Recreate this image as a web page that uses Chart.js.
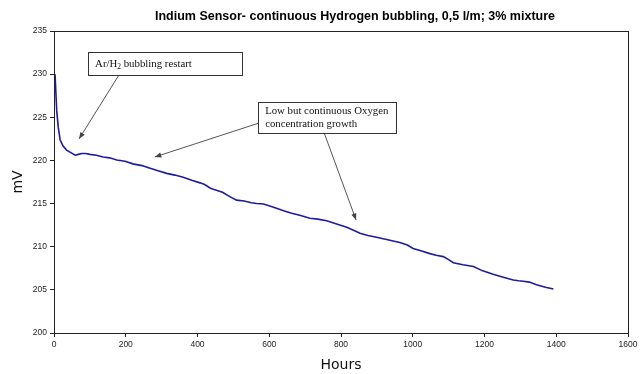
<!DOCTYPE html>
<html><head><meta charset="utf-8">
<script src="https://cdn.jsdelivr.net/npm/chart.js@4"></script>
<style>html,body{margin:0;padding:0;background:#fff}#wrap{width:641px;height:374px}</style>
</head><body><div id="wrap"><canvas id="c" width="641" height="374"></canvas></div>
<script>
const chartTitle = 'Indium Sensor- continuous Hydrogen bubbling, 0,5 l/m; 3% mixture';
const xTitle = 'Hours';
const yTitle = 'mV';
const hours = [0,3,7.5,12,17,25,35,47,59,68,77,88,100,118,137,155,175,198,220,245,268,290,314,337,360,384,407,420,435,444,470,490,509,530,550,565,584,610,638,660,690,713,735,760,790,816,835,853,875,899,930,964,985,1001,1025,1048,1065,1085,1100,1113,1140,1169,1195,1224,1250,1280,1295,1308,1325,1345,1370,1392];
const mV = [230.0,229.9,225.8,223.8,222.4,221.7,221.2,220.9,220.6,220.7,220.8,220.8,220.7,220.6,220.4,220.3,220.05,219.9,219.6,219.4,219.1,218.8,218.5,218.3,218.05,217.7,217.4,217.2,216.8,216.65,216.3,215.8,215.4,215.3,215.1,215.0,214.95,214.6,214.2,213.9,213.6,213.3,213.2,213.0,212.6,212.25,211.9,211.55,211.3,211.1,210.8,210.5,210.2,209.8,209.5,209.2,209.0,208.85,208.5,208.15,207.9,207.7,207.2,206.8,206.5,206.15,206.05,206.0,205.9,205.6,205.3,205.1];
const xTicks = [0,200,400,600,800,1000,1200,1400,1600];
const yTicks = [200,205,210,215,220,225,230,235];

// annotations in data coordinates
const notes = [
  {box:[95,524,232.6,229.9], lines:[['Ar/H','2',' bubbling restart']], arrows:[[181,229.9,70,222.5]]},
  {box:[569,953,226.8,223.2], lines:[['Low but continuous Oxygen'],['concentration growth']], arrows:[[569,224.3,281,220.4],[753,223.2,842,213.1]]}
];

const points = hours.map((h,i)=>({x:h,y:mV[i]}));

function arrow(ctx,x1,y1,x2,y2){
  ctx.beginPath();ctx.moveTo(x1,y1);ctx.lineTo(x2,y2);ctx.stroke();
  const a=Math.atan2(y2-y1,x2-x1), L=7, w=0.38;
  ctx.beginPath();ctx.moveTo(x2,y2);
  ctx.lineTo(x2-L*Math.cos(a-w),y2-L*Math.sin(a-w));
  ctx.lineTo(x2-L*Math.cos(a+w),y2-L*Math.sin(a+w));
  ctx.closePath();ctx.fill();
}

const deco = {
  id:'deco',
  afterDraw(chart){
    const ctx=chart.ctx, a=chart.chartArea, xs=chart.scales.x, ys=chart.scales.y;
    ctx.save();
    ctx.strokeStyle='#222';ctx.lineWidth=1;
    ctx.strokeRect(Math.round(a.left)+0.5,Math.round(a.top)+0.5,Math.round(a.right-a.left),Math.round(a.bottom-a.top));
    ctx.fillStyle='#000';ctx.font='bold 12.5px "Liberation Sans", Arial';ctx.textAlign='center';ctx.textBaseline='middle';
    ctx.fillText(chartTitle,355,17);
    notes.forEach(n=>{
      const x1=xs.getPixelForValue(n.box[0]),x2=xs.getPixelForValue(n.box[1]);
      const y1=ys.getPixelForValue(n.box[2]),y2=ys.getPixelForValue(n.box[3]);
      ctx.strokeStyle='#555';ctx.fillStyle='#444';ctx.lineWidth=1;
      n.arrows.forEach(r=>arrow(ctx,xs.getPixelForValue(r[0]),ys.getPixelForValue(r[1]),xs.getPixelForValue(r[2]),ys.getPixelForValue(r[3])));
      ctx.fillStyle='#fff';ctx.fillRect(x1,y1,x2-x1,y2-y1);
      ctx.strokeStyle='#333';ctx.strokeRect(Math.round(x1)+0.5,Math.round(y1)+0.5,Math.round(x2-x1),Math.round(y2-y1));
      ctx.fillStyle='#111';ctx.textAlign='left';ctx.textBaseline='alphabetic';
      const lh=13.5, total=n.lines.length*lh;
      let by=(y1+y2)/2-total/2+10;
      n.lines.forEach(parts=>{
        let x=x1+7;
        parts.forEach((p,i)=>{
          if(i===1){ctx.font='7.5px "Liberation Serif", "Times New Roman", serif';ctx.fillText(p,x,by+2);x+=ctx.measureText(p).width;}
          else{ctx.font='10.8px "Liberation Serif", "Times New Roman", serif';ctx.fillText(p,x,by);x+=ctx.measureText(p).width;}
        });
        by+=lh;
      });
    });
    ctx.restore();
  }
};

new Chart(document.getElementById('c'),{
  type:'line',
  data:{datasets:[{data:points,borderColor:'#1c1ca0',borderWidth:1.6,pointRadius:0,tension:0,fill:false}]},
  options:{
    responsive:false,animation:false,
    layout:{padding:{top:31,right:13,left:0,bottom:0}},
    plugins:{legend:{display:false},title:{display:false},tooltip:{enabled:false}},
    scales:{
      x:{type:'linear',min:0,max:1600,
        afterBuildTicks(s){s.ticks=xTicks.map(v=>({value:v}));},
        afterFit(s){s.height=41;},
        ticks:{font:{family:'"Liberation Sans", Arial',size:8.5},color:'#222',padding:3,maxRotation:0,callback:v=>String(v)},
        grid:{drawOnChartArea:false,drawTicks:true,tickLength:4,color:'#222'},
        border:{color:'#222'},
        title:{display:true,text:xTitle,font:{family:'"DejaVu Sans"',size:14},color:'#111',padding:{top:2,bottom:0}}
      },
      y:{type:'linear',min:200,max:235,
        afterBuildTicks(s){s.ticks=yTicks.map(v=>({value:v}));},
        afterFit(s){s.width=54;},
        ticks:{font:{family:'"Liberation Sans", Arial',size:8.5},color:'#222',padding:3,callback:v=>String(v)},
        grid:{drawOnChartArea:false,drawTicks:true,tickLength:4,color:'#222'},
        border:{color:'#222'},
        title:{display:true,text:yTitle,font:{family:'"DejaVu Sans"',size:14},color:'#111',padding:{top:10,bottom:0}}
      }
    }
  },
  plugins:[deco]
});
</script></body></html>
